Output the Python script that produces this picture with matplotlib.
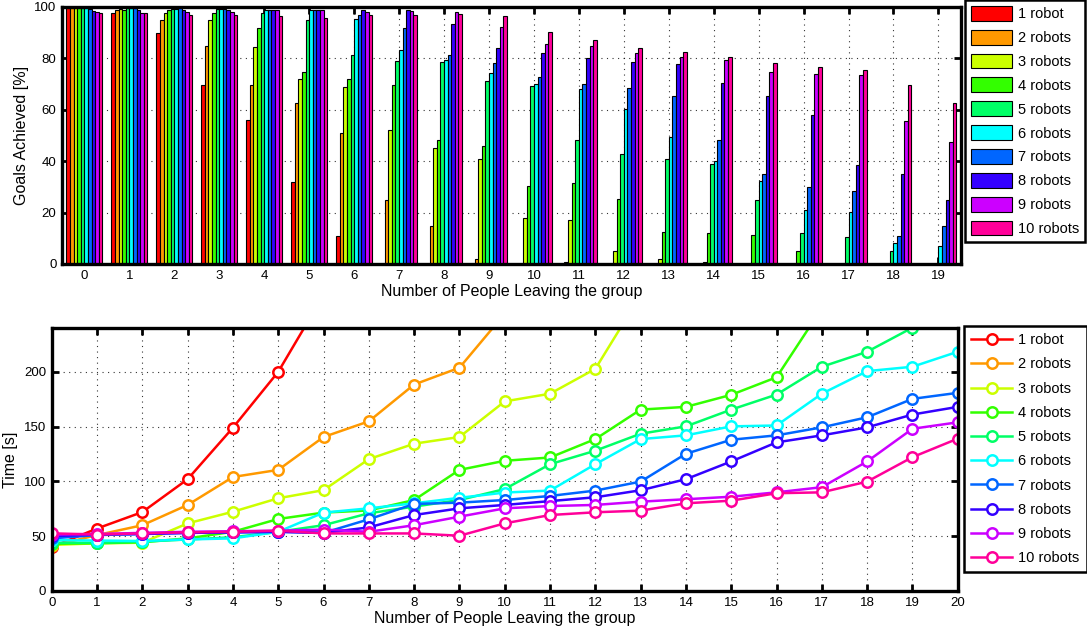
import numpy as np
import matplotlib
matplotlib.use('Agg')
import matplotlib.pyplot as plt
from matplotlib.colors import hsv_to_rgb
from matplotlib.patches import Patch
from matplotlib.lines import Line2D

nan = np.nan

labels = ['1 robot'] + [f'{n} robots' for n in range(2, 11)]
people_bar = np.arange(20)
people_line = np.arange(21)

# goals achieved [%], one row per group (people leaving), one column per robot count
goals_by_group = [
    [99.6, 99.6, 99.6, 99.7, 99.7, 99.5, 99.1, 98.6, 98.1, 97.7],
    [97.7, 98.7, 99.2, 99.0, 99.6, 99.6, 99.6, 99.0, 97.7, 97.5],
    [89.9, 94.8, 97.7, 98.7, 99.2, 99.4, 99.6, 99.0, 98.0, 97.0],
    [69.8, 84.7, 95.1, 97.7, 99.2, 99.2, 99.2, 98.7, 98.0, 97.0],
    [55.9, 69.8, 84.3, 91.8, 97.7, 98.8, 98.8, 98.7, 98.7, 96.6],
    [31.9, 62.6, 72.0, 74.7, 94.8, 98.7, 98.7, 98.7, 98.7, 95.7],
    [11.0, 51.0, 68.9, 72.0, 81.4, 95.3, 97.0, 98.7, 98.0, 96.8],
    [0.0, 25.0, 52.3, 69.8, 79.1, 83.4, 91.8, 99.0, 98.3, 97.0],
    [0.0, 14.9, 45.1, 48.1, 78.5, 79.5, 81.4, 93.5, 97.9, 97.4],
    [0.0, 1.9, 40.9, 46.0, 71.2, 74.3, 78.2, 84.0, 92.2, 96.4],
    [0.0, 0.0, 17.9, 30.2, 69.4, 70.0, 72.8, 82.1, 85.7, 90.1],
    [0.0, 0.9, 17.0, 31.5, 48.4, 68.1, 70.0, 80.0, 85.0, 87.0],
    [0.0, 0.0, 4.9, 25.4, 42.9, 60.3, 68.5, 78.5, 82.1, 84.0],
    [0.0, 0.0, 1.9, 12.5, 41.0, 49.4, 65.2, 78.0, 80.5, 82.4],
    [0.0, 0.0, 0.6, 12.0, 38.9, 40.0, 48.1, 70.4, 79.2, 80.5],
    [0.0, 0.0, 0.0, 11.4, 25.0, 32.2, 35.1, 65.5, 74.7, 78.2],
    [0.0, 0.0, 0.0, 4.9, 12.0, 20.9, 30.0, 58.1, 73.8, 76.7],
    [0.0, 0.0, 0.0, 0.0, 10.5, 20.2, 28.3, 38.7, 73.5, 75.4],
    [0.0, 0.0, 0.0, 0.0, 5.2, 8.2, 10.8, 35.1, 55.5, 69.6],
    [0.0, 0.0, 0.0, 0.0, 0.0, 6.9, 14.9, 25.0, 47.3, 62.6],
]

# completion time [s] per robot count
time_1 = [40, 57, 72, 102, 149, 200, 270] + [nan] * 14
time_2 = [41, 51, 60, 78.5, 104, 110.5, 140.5, 154.8, 188.4, 203.7, 253] + [nan] * 10
time_3 = [42, 43.5, 44, 61.7, 72.3, 84.6, 92, 120.3, 134.4, 140.5, 173, 180,
          202.7, 270] + [nan] * 7
time_4 = [43, 43.5, 44.5, 48, 54, 65.7, 71.5, 73.5, 83, 110.5, 118.8, 121.8,
          138.6, 165.5, 168, 179, 195, 258] + [nan] * 3
time_5 = [44, 44, 45, 47, 49, 54, 60, 70.9, 77, 83, 93, 115.7, 128, 143.5,
          150.2, 165.5, 179.2, 204.6, 218.3, 240.3, nan]
time_6 = [46.4, 46, 45.6, 47, 48, 54, 71.5, 75.4, 80, 85, 89.8, 91.6, 115.7,
          138.6, 142, 150.2, 151, 180, 200.6, 204.6, 218.3]
time_7 = [48, 51, 52, 53, 53.5, 54, 53, 65.4, 79.4, 80.6, 83, 86.7, 91.6, 99.8,
          125.2, 138, 142, 149.3, 158.5, 175.3, 180.8]
time_8 = [50, 51.5, 52, 53, 53.5, 54, 53, 58, 69.3, 75.4, 78.5, 82, 85.5, 91.9,
          102, 118.2, 135.6, 142, 149.3, 161, 168]
time_9 = [51.5, 52, 53, 54, 54.5, 55, 56, 54, 60, 67.8, 75.4, 77.5, 78.5, 81.5,
          83.7, 86, 90, 94.7, 118.2, 148, 153.9]
time_10 = [52.6, 51.5, 52.6, 53.5, 54, 55, 52.5, 52.5, 52.5, 50.4, 61.7, 69.3,
           71.8, 73.3, 80, 82.4, 89.2, 90, 99.8, 122.1, 139]
times = [time_1, time_2, time_3, time_4, time_5, time_6, time_7, time_8,
         time_9, time_10]

plt.rcParams['font.family'] = ['Liberation Sans', 'DejaVu Sans']
plt.rcParams['font.size'] = 10

colors = [hsv_to_rgb((i / 10, 1, 1)) for i in range(10)]
goals = np.array(goals_by_group).T


def style_axes(ax):
    for sp in ax.spines.values():
        sp.set_linewidth(2.4)
    ax.tick_params(direction='in', top=True, right=True, length=5, width=2,
                   labelsize=9.5, pad=4)
    ax.grid(True, color='k', linestyle=(0, (1, 4)), linewidth=0.8, alpha=0.8)


fig = plt.figure(figsize=(10.87, 6.33), dpi=100)

# goals achieved, grouped bars
ax1 = fig.add_axes([0.057, 0.583, 0.827, 0.406])
w = 0.08
for i in range(10):
    ax1.bar(people_bar + (i - 4.5) * w, goals[i], width=w, color=colors[i],
            edgecolor='k', linewidth=0.8, zorder=2)
ax1.set_xlim(-0.5, 19.5)
ax1.set_ylim(0, 100)
ax1.set_xticks(people_bar)
ax1.set_yticks([0, 20, 40, 60, 80, 100])
ax1.set_xlabel('Number of People Leaving the group', fontsize=11.5, labelpad=2)
ax1.set_ylabel('Goals Achieved [%]', fontsize=11.5, labelpad=4)
style_axes(ax1)
ax1.set_axisbelow(True)

handles1 = [Patch(facecolor=c, edgecolor='k', linewidth=0.8) for c in colors]
leg1 = fig.legend(handles1, labels, loc='upper left',
                  bbox_to_anchor=(965 / 1087, 1.0), bbox_transform=fig.transFigure,
                  borderaxespad=0, fancybox=False, edgecolor='k', framealpha=1,
                  handlelength=2.8, handleheight=1.2, labelspacing=0.58,
                  handletextpad=0.4, borderpad=0.4, fontsize=10.5)
leg1.get_frame().set_linewidth(1.8)

# completion time, lines with markers
ax2 = fig.add_axes([0.0476, 0.0664, 0.8335, 0.4155])
for i in range(10):
    ax2.plot(people_line, times[i], color=colors[i], linewidth=1.8, marker='o',
             markersize=7.5, markerfacecolor='white', markeredgewidth=1.8,
             markeredgecolor=colors[i])
ax2.set_xlim(0, 20)
ax2.set_ylim(0, 240)
ax2.set_xticks(people_line)
ax2.set_yticks([0, 50, 100, 150, 200])
ax2.set_xlabel('Number of People Leaving the group', fontsize=11.5, labelpad=2)
ax2.set_ylabel('Time [s]', fontsize=11.5, labelpad=4)
style_axes(ax2)

handles2 = [Line2D([0], [0], color=c, linewidth=1.8, marker='o', markersize=7.5,
                   markerfacecolor='white', markeredgewidth=1.8) for c in colors]
leg2 = fig.legend(handles2, labels, loc='upper left',
                  bbox_to_anchor=(964 / 1087, 1 - 326 / 633), bbox_transform=fig.transFigure,
                  borderaxespad=0, fancybox=False, edgecolor='k', framealpha=1,
                  handlelength=2.8, labelspacing=0.7, handletextpad=0.4,
                  borderpad=0.5, fontsize=10.5)
leg2.get_frame().set_linewidth(1.8)

fig.savefig('out.png', dpi=100)
